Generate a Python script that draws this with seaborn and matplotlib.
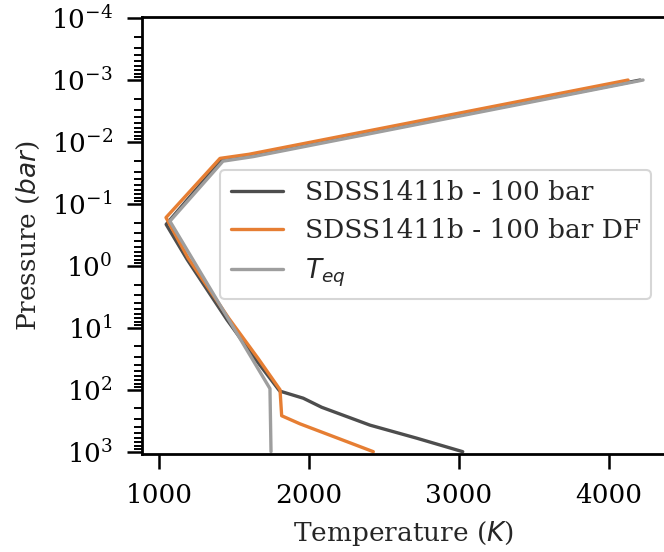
import numpy as np
import matplotlib
matplotlib.use("Agg")
import matplotlib.pyplot as plt
import seaborn as sns

# ---------- data ----------
temp_100bar = [4207, 1600, 1415, 1048, 1188, 1453, 1647, 1805, 1962, 2085, 2407, 2718, 3025]
pres_100bar = [1.0e-3, 0.0169, 0.0197, 0.214, 0.79, 7.4, 33, 105, 137, 192, 373, 605, 1000]

temp_100bar_df = [4127, 1600, 1407, 1047, 1195, 1465, 1660, 1807, 1818, 1940, 2429]
pres_100bar_df = [1.0e-3, 0.0158, 0.0184, 0.166, 0.75, 7.0, 31, 100, 263, 355, 1000]

temp_eq = [4227, 1630, 1427, 1073, 1740, 1747]
pres_eq = [1.0e-3, 0.0172, 0.0204, 0.19, 96, 1000]

labels = ["SDSS1411b - 100 bar", "SDSS1411b - 100 bar DF", r"$T_{eq}$"]
colors = ["#4d4d4d", "#e67e33", "#9e9e9e"]

# ---------- style ----------
sns.set_theme(style="ticks", context="talk")
plt.rcParams["font.family"] = ["DejaVu Serif"]
plt.rcParams["mathtext.fontset"] = "dejavusans"

fig = plt.figure(figsize=(6.64, 5.52), dpi=100)
ax = fig.add_axes([142 / 664, 98 / 552, 524 / 664, 437 / 552])

for t, p, lab, col in zip([temp_100bar, temp_100bar_df, temp_eq],
                          [pres_100bar, pres_100bar_df, pres_eq],
                          labels, colors):
    sns.lineplot(x=t, y=p, sort=False, estimator=None, color=col, label=lab,
                 lw=2.4, ax=ax)

ax.set_yscale("log")
ax.set_ylim(1.09e3, 0.96e-4)
ax.set_xlim(887, 4380)
ax.set_xticks([1000, 2000, 3000, 4000])

ax.set_xlabel("Temperature ($K$)", fontsize=19, labelpad=8)
ax.set_ylabel("Pressure ($bar$)", fontsize=19, labelpad=6)
ax.tick_params(axis="both", which="major", labelsize=19, colors="black",
               length=10.5, width=1.8, pad=10.5)
ax.tick_params(axis="y", which="minor", length=5.6, width=1.4, colors="black")
for s in ax.spines.values():
    s.set_color("black")
    s.set_linewidth(2.0)

ax.legend(loc="upper left", bbox_to_anchor=(0.149, 0.651), borderaxespad=0,
          fontsize=19, frameon=True)

fig.savefig("out.png", dpi=100)
